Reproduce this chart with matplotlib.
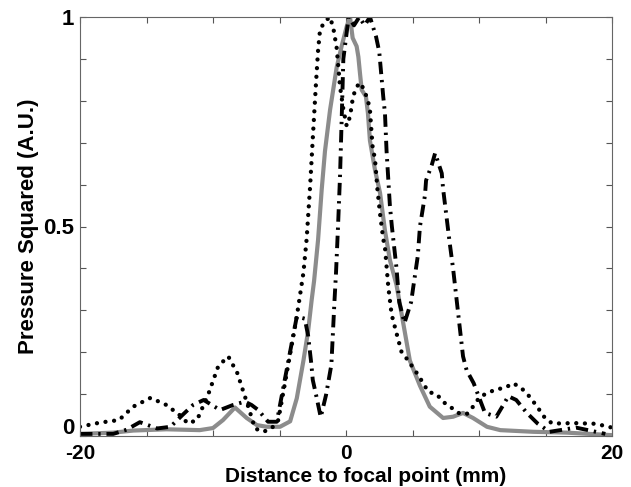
import matplotlib
matplotlib.use("Agg")
import matplotlib.pyplot as plt
import matplotlib.transforms as mtransforms

plt.rcParams['font.family'] = ['Liberation Sans', 'DejaVu Sans']
plt.rcParams['font.weight'] = 'bold'

# gray solid curve
solid_x = [-20, -17.5, -16, -13.5, -11, -10, -9.25, -8.35, -7.47, -6.7, -5.96, -4.96,
           -4.2, -3.7, -3.2, -2.85, -2.58, -2.4, -2.1, -1.83, -1.58, -1.2, -0.7, -0.33,
           0.05, 0.3, 0.5, 0.8, 0.93, 1.05, 1.18, 1.5, 1.65, 1.8, 2.18, 2.56, 2.93, 3.3,
           3.8, 4.3, 4.8, 5.56, 6.3, 7.3, 8.05, 8.8, 9.55, 10.6, 11.6, 14.1, 16.6, 20]
solid_y = [0.005, 0.008, 0.013, 0.016, 0.014, 0.019, 0.038, 0.068, 0.043, 0.026, 0.022, 0.022,
           0.035, 0.09, 0.18, 0.25, 0.325, 0.37, 0.468, 0.587, 0.68, 0.778, 0.88, 0.93,
           0.977, 1.0, 0.95, 0.93, 0.905, 0.866, 0.826, 0.81, 0.77, 0.705, 0.635, 0.58, 0.49, 0.42,
           0.36, 0.27, 0.18, 0.12, 0.07, 0.043, 0.046, 0.055, 0.043, 0.022, 0.014, 0.01, 0.008, 0.002]

# dotted curve
dot_x = [-20, -18.5, -17.07, -16.0, -14.7, -13.5, -12.35, -11.9, -11.2, -10.35, -9.6, -8.85,
         -8.17, -7.35, -6.84, -6.22, -5.6, -5.09, -4.59, -3.7, -3.2, -2.96, -2.7, -2.48, -2.26,
         -2.1, -1.95, -1.58, -1.2, -0.95, -0.7, -0.45, -0.2, 0.05, 0.3, 0.53, 0.8, 1.1, 1.43,
         1.65, 1.8, 1.93, 2.0, 2.18, 2.36, 2.56, 2.8, 2.93, 3.18, 3.43, 3.8, 4.18, 4.68, 5.06,
         5.44, 5.8, 6.2, 6.8, 7.37, 7.95, 8.45, 9.07, 9.55, 10.07, 10.7, 11.3, 11.9, 12.57,
         13.2, 13.8, 14.37, 14.96, 15.5, 16.3, 17.07, 17.8, 18.5, 19.2, 20]
dot_y = [0.022, 0.032, 0.038, 0.07, 0.091, 0.074, 0.046, 0.03, 0.038, 0.10, 0.167, 0.19,
         0.15, 0.07, 0.018, 0.01, 0.018, 0.038, 0.126, 0.285, 0.39, 0.47, 0.595, 0.72, 0.84,
         0.92, 0.97, 0.99, 1.0, 0.973, 0.926, 0.834, 0.78, 0.74, 0.762, 0.81, 0.834, 0.843, 0.82,
         0.80, 0.778, 0.72, 0.69, 0.66, 0.59, 0.53, 0.47, 0.45, 0.356, 0.29, 0.245, 0.2, 0.18, 0.162,
         0.145, 0.126, 0.105, 0.10, 0.08, 0.067, 0.055, 0.052, 0.07, 0.094, 0.103, 0.112, 0.114, 0.126,
         0.114, 0.094, 0.07, 0.043, 0.03, 0.03, 0.031, 0.03, 0.03, 0.026, 0.02]

# dash-dot curve
dd_x = [-20, -17.5, -16.5, -15.5, -14.2, -13.2, -12.3, -11.5, -10.7, -9.47, -8.5, -7.6,
        -7.1, -6.6, -5.86, -5.2, -4.7, -3.7, -3.1, -2.85, -2.6, -2.5, -2.25, -1.9, -1.5,
        -1.1, -0.87, -0.75, -0.6, -0.45, -0.33, -0.2, 0.2, 0.6, 1.0, 1.4, 1.8, 2.26, 2.5,
        2.8, 2.93, 3.05, 3.3, 3.45, 3.8, 4.0, 4.4, 4.9, 5.06, 5.4, 5.56, 5.94, 6.02, 6.45,
        6.7, 7.2, 7.3, 7.8, 8.05, 8.8, 9.07, 9.6, 10.45, 11.3, 11.9, 12.2, 12.8, 13.6, 14.4,
        15.3, 17.3, 18.5, 19.5]
dd_y = [0.005, 0.005, 0.015, 0.033, 0.018, 0.022, 0.05, 0.074, 0.086, 0.062, 0.074, 0.082,
        0.074, 0.062, 0.034, 0.034, 0.118, 0.285, 0.28, 0.24, 0.17, 0.134, 0.098, 0.045, 0.098,
        0.17, 0.32, 0.39, 0.5, 0.62, 0.75, 0.9, 1.0, 0.98, 1.0, 0.98, 1.0, 0.953, 0.917,
        0.81, 0.77, 0.68, 0.55, 0.5, 0.4, 0.32, 0.27, 0.32, 0.356, 0.43, 0.5, 0.575, 0.61, 0.647,
        0.675, 0.627, 0.59, 0.46, 0.40, 0.19, 0.157, 0.126, 0.055, 0.046, 0.078, 0.095, 0.086, 0.055, 0.03,
        0.01, 0.02, 0.012, 0.005]

fig = plt.figure(figsize=(6.31, 4.87), dpi=100)
ax = fig.add_axes([80 / 631, 51 / 487, 532 / 631, 419 / 487])

ax.plot(solid_x, solid_y, color='#8c8c8c', lw=3.0, solid_joinstyle='round')
ax.plot(dot_x, dot_y, color='black', lw=3.1, linestyle=(0, (0.01, 2.0)),
        dash_capstyle='round')
ax.plot(dd_x, dd_y, color='black', lw=2.8, linestyle=(0, (3.2, 1.5, 0.6, 1.5)),
        dash_capstyle='butt')

ax.set_xlim(-20, 20)
ax.set_ylim(0, 1)
ax.set_xticks([-20, -15, -10, -5, 0, 5, 10, 15, 20])
ax.set_xticklabels(['-20', '', '', '', '0', '', '', '', '20'])
ax.set_yticks([0, 0.1, 0.2, 0.3, 0.4, 0.5, 0.6, 0.7, 0.8, 0.9, 1.0])
ax.set_yticklabels(['0', '', '', '', '', '0.5', '', '', '', '', '1'])
ax.tick_params(direction='in', top=True, right=True, length=4, width=0.8,
               color='#555555', labelsize=16)
ax.tick_params(axis='x', pad=6, labelsize=15)
ax.tick_params(axis='y', pad=4)
for s in ax.spines.values():
    s.set_color('#666666')
    s.set_linewidth(0.8)

# the "0" on the y axis sits a little above the axis line, as in the original
lab0 = ax.get_yticklabels()[0]
lab0.set_transform(lab0.get_transform() +
                   mtransforms.ScaledTranslation(0, 7 / 72, fig.dpi_scale_trans))

ax.set_xlabel('Distance to focal point (mm)', fontsize=15, fontweight='bold')
ax.set_ylabel('Pressure Squared (A.U.)', fontsize=16, fontweight='bold')
ax.xaxis.set_label_coords(0.536, -0.074)
ax.yaxis.set_label_coords(-0.078, 0.5)

fig.savefig('out.png', dpi=100)
